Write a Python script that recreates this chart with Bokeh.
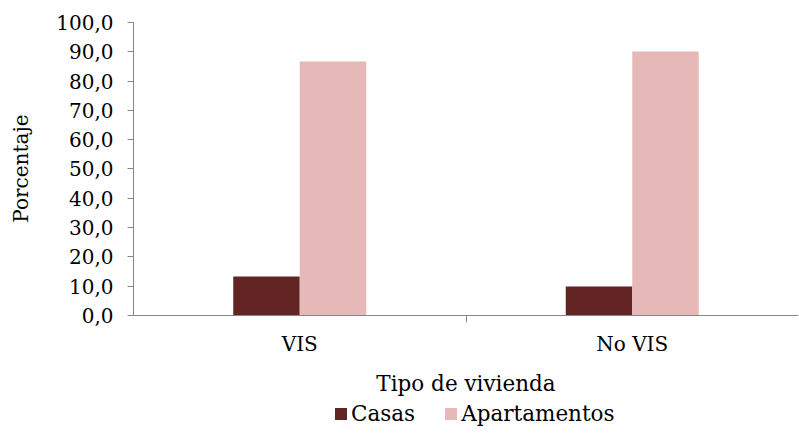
from bokeh.plotting import figure
from bokeh.models import Legend, LegendItem, FixedTicker, CustomJSTickFormatter, Range1d, ColumnDataSource
from bokeh.transform import dodge
from bokeh.embed import file_html
from bokeh.resources import INLINE
import numpy as np

categories = ["VIS", "No VIS"]
series = ["Casas", "Apartamentos"]
casas = [13.3, 9.9]
apartamentos = [86.7, 90.1]
colors = ["#632523", "#E6B9B8"]
y_ticks = list(range(0, 101, 10))

FONT = "DejaVu Serif"
FS = "20px"
FS_T = "21.5px"

centers = np.arange(len(categories)) + 0.5
src = ColumnDataSource(dict(x=centers, casas=casas, apartamentos=apartamentos))

# frame extends below the x axis (y=0) so that the axis texts and legend fit inside it
p = figure(frame_width=665, frame_height=413,
           output_backend="svg", toolbar_location=None,
           x_range=Range1d(0, len(categories)), y_range=Range1d(-40.96, 100),
           min_border_left=133, min_border_right=1, min_border_top=22, min_border_bottom=0)
p.outline_line_color = None
p.grid.grid_line_color = None
p.background_fill_color = "white"
p.border_fill_color = "white"

r1 = p.vbar(x=dodge("x", -0.1), top="casas", width=0.2, source=src,
            fill_color=colors[0], line_color=None)
r2 = p.vbar(x=dodge("x", 0.1), top="apartamentos", width=0.2, source=src,
            fill_color=colors[1], line_color=None)

# x axis, fixed at y = 0
xa = p.xaxis[0]
xa.fixed_location = 0
xa.ticker = FixedTicker(ticks=list(centers), minor_ticks=list(np.arange(1, len(categories))))
xa.major_label_overrides = {float(c): n for c, n in zip(centers, categories)}
xa.major_tick_line_color = None
xa.major_tick_out = 0
xa.major_tick_in = 0
xa.minor_tick_line_color = "#868686"
xa.minor_tick_out = 7
xa.minor_tick_in = 0
xa.axis_line_color = "#868686"
xa.major_label_text_font = FONT
xa.major_label_text_font_size = FS
xa.major_label_text_color = "black"
xa.major_label_standoff = 10
xa.axis_label = "Tipo de vivienda"
xa.axis_label_text_font = FONT
xa.axis_label_text_font_size = FS_T
xa.axis_label_text_font_style = "normal"
xa.axis_label_text_color = "black"
xa.axis_label_standoff = 11

# y axis, bounded to 0..100; label padded so it sits centred on the 0..100 span
ya = p.yaxis[0]
ya.bounds = (0, 100)
ya.ticker = FixedTicker(ticks=y_ticks)
ya.formatter = CustomJSTickFormatter(code="return tick.toFixed(1).replace('.', ',');")
ya.major_tick_line_color = "#868686"
ya.major_tick_out = 6
ya.major_tick_in = 0
ya.minor_tick_line_color = None
ya.axis_line_color = "#868686"
ya.major_label_text_font = FONT
ya.major_label_text_font_size = FS
ya.major_label_text_color = "black"
ya.major_label_standoff = 14
ya.axis_label = "\u00a0" * 19 + "Porcentaje"
ya.axis_label_text_font = FONT
ya.axis_label_text_font_size = FS
ya.axis_label_text_font_style = "normal"
ya.axis_label_text_color = "black"
ya.axis_label_standoff = 20

legend = Legend(items=[LegendItem(label=series[0], renderers=[r1]),
                       LegendItem(label=series[1], renderers=[r2])],
                orientation="horizontal", location=(200, 9),
                label_text_font=FONT, label_text_font_size=FS_T, label_text_color="black",
                glyph_width=15, glyph_height=15, spacing=28, padding=0, margin=0,
                label_standoff=3, border_line_color=None, background_fill_alpha=0)
p.add_layout(legend, "center")

open("out.html", "w").write(file_html(p, INLINE))
